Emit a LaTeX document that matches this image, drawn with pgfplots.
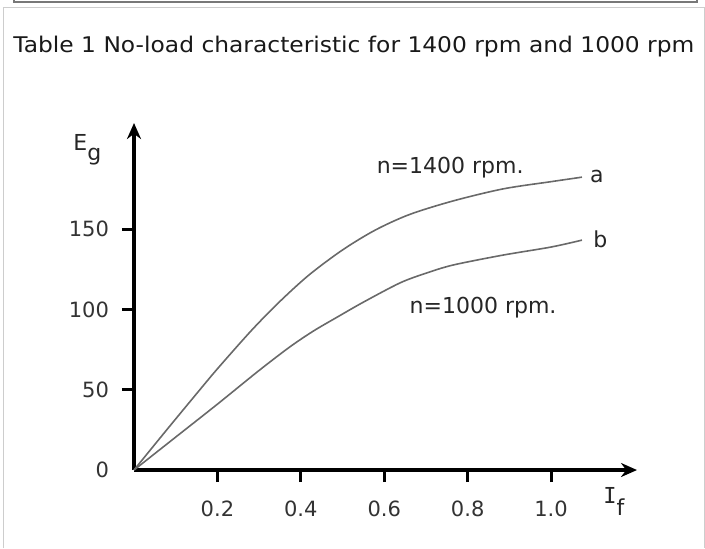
\documentclass[border=0pt]{standalone}
\usepackage{fontspec}
\usepackage{graphicx}
\setmainfont{DejaVu Sans}
\newfontfamily\serifI{DejaVu Sans Mono}
\usepackage{pgfplots}
\pgfplotsset{compat=1.18}
\usetikzlibrary{arrows.meta}
\definecolor{curve}{RGB}{105,105,105}
\definecolor{frameA}{RGB}{120,120,120}
\definecolor{frameB}{RGB}{205,205,205}
\begin{document}
\begin{tikzpicture}
\path[use as bounding box] (0,0) rectangle (352.5pt,-274pt);
% pieces of the surrounding frames at the top
\draw[frameA, line width=0.6pt] (7pt,0) -- (7pt,-1pt) -- (348.5pt,-1pt) -- (348.5pt,0);
\draw[frameB, line width=0.5pt] (1.5pt,-274pt) -- (1.5pt,-3.5pt) -- (352pt,-3.5pt) -- (352pt,-274pt);
\node[anchor=base west, inner sep=0, text=black!90]
  at (6.5pt,-26pt) {\resizebox{340.5pt}{\height}{\fontsize{10.8}{13}\selectfont Table 1 No-load characteristic for 1400 rpm and 1000 rpm}};
\begin{axis}[
  at={(67pt,-235pt)}, anchor=south west,
  scale only axis, width=251.5pt, height=173.5pt,
  xmin=0, xmax=1.206, ymin=0, ymax=216,
  axis lines=left,
  axis line style={line width=2pt, -{Stealth[length=8pt,width=7pt]}},
  tick align=outside, major tick length=6pt,
  major tick style={line width=1.5pt, black},
  xtick={0.2,0.4,0.6,0.8,1.0}, xticklabels={0.2,0.4,0.6,0.8,1.0},
  ytick={50,100,150}, yticklabels={50,100,150},
  extra y ticks={0}, extra y tick labels={0},
  extra y tick style={major tick style={draw=none}},
  tick label style={font=\fontsize{10.5}{12}\selectfont, text=black!80},
  xticklabel style={yshift=-6pt},
  yticklabel style={xshift=-3pt},
  clip=false,
]
\addplot[curve, line width=0.8pt, smooth] coordinates {
  (0,0) (0.08,25.5) (0.15,47.5) (0.20,63) (0.282,87) (0.35,105) (0.42,121.5)
  (0.50,137) (0.578,149.3) (0.66,159) (0.765,167.5) (0.885,175) (1.0,179.5) (1.074,182.3)};
\addplot[curve, line width=0.8pt, smooth] coordinates {
  (0,0) (0.10,20.5) (0.20,41) (0.30,62) (0.374,76.7) (0.43,86.5) (0.486,95)
  (0.55,104.5) (0.638,116.5) (0.70,122.5) (0.765,127.6) (0.885,133.8) (1.0,138.8) (1.074,143.1)};
\node[font=\fontsize{11}{13}\selectfont, text=black!85] at (axis cs:0.758,188) {n=1400 rpm.};
\node[font=\fontsize{11}{13}\selectfont, text=black!85] at (axis cs:0.837,101.4) {n=1000 rpm.};
\node[font=\fontsize{11}{13}\selectfont, text=black!85] at (axis cs:1.110,182.6) {a};
\node[font=\fontsize{11}{13}\selectfont, text=black!85] at (axis cs:1.118,143.7) {b};
\end{axis}
\node[anchor=base west, inner sep=0, font=\fontsize{11}{13}\selectfont, text=black!85]
  at (36.5pt,-75pt) {E\raisebox{-5pt}{g}};
\node[anchor=base west, inner sep=0, font=\fontsize{11}{13}\selectfont, text=black!85]
  at (301.5pt,-251.5pt) {{\serifI I}\raisebox{-6pt}{f}};
\end{tikzpicture}
\end{document}
